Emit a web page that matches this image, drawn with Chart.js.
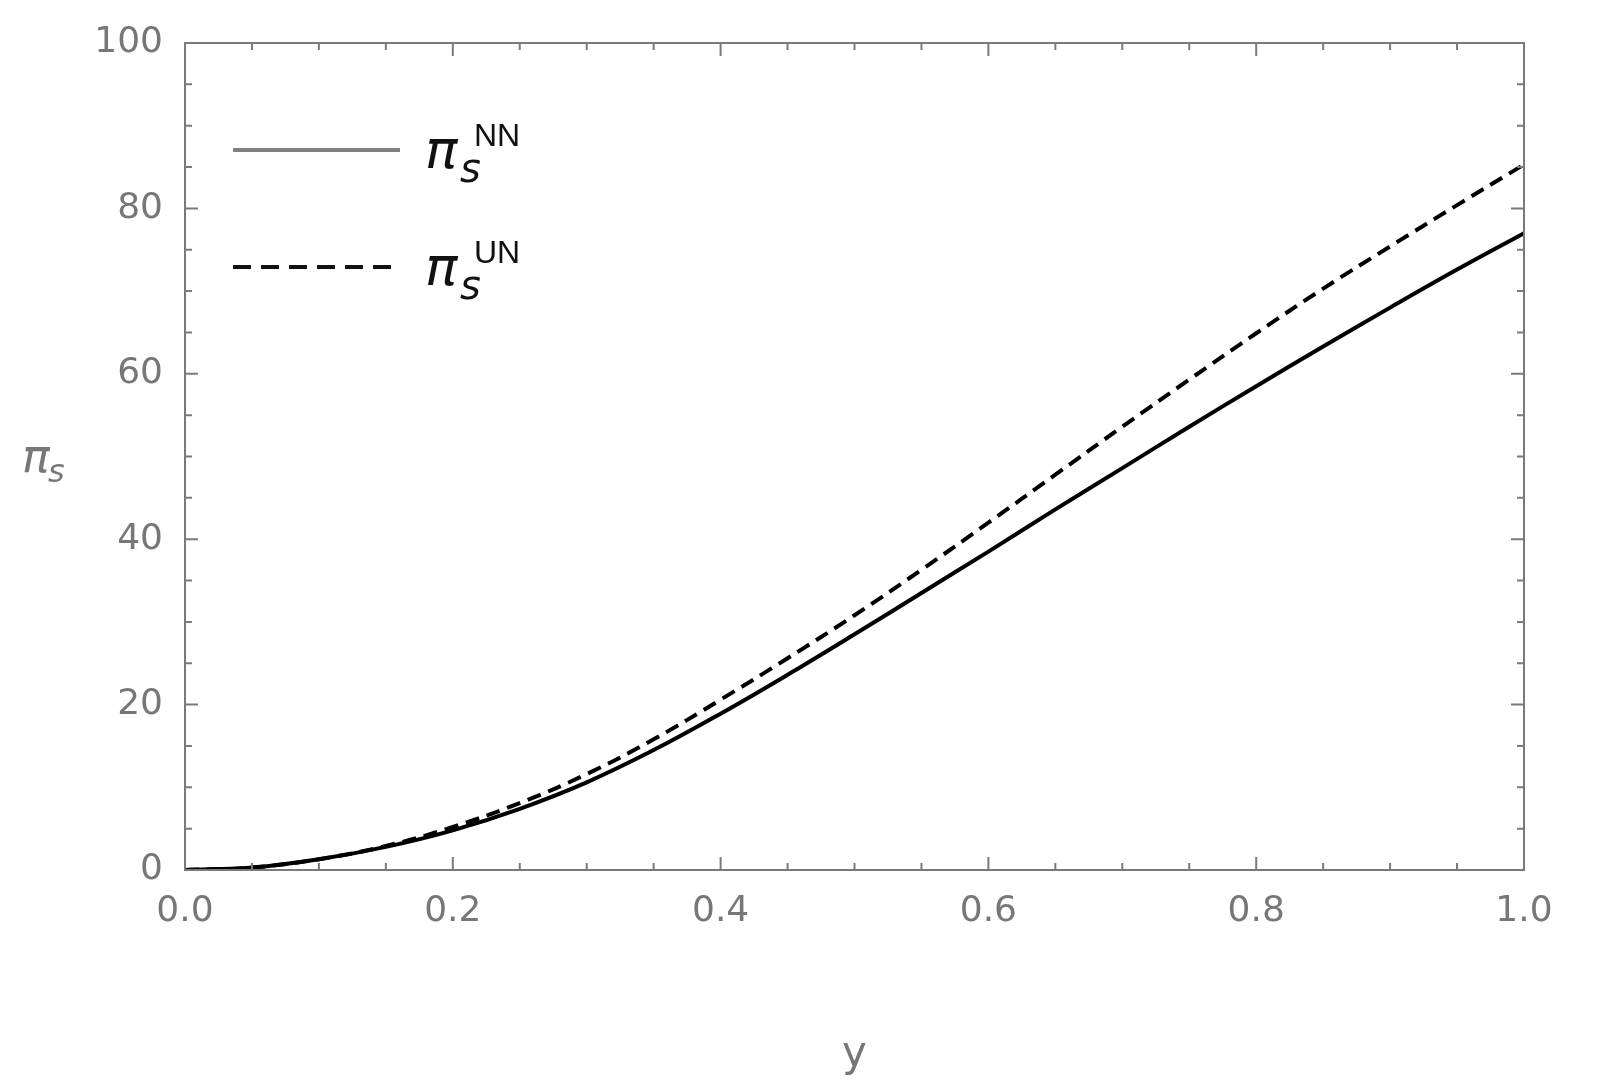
<!DOCTYPE html>
<html>
<head>
<meta charset="utf-8">
<script src="https://cdn.jsdelivr.net/npm/chart.js@4"></script>
<style>
  html, body { margin: 0; padding: 0; background: #fff; }
  #wrap { width: 1608px; height: 1084px; }
</style>
</head>
<body>
<div id="wrap"><canvas id="chart" width="1608" height="1084"></canvas></div>
<script>
// values
const yValues = [0, 0.05, 0.1, 0.15, 0.2, 0.25, 0.3, 0.35, 0.4, 0.45, 0.5,
                 0.55, 0.6, 0.65, 0.7, 0.75, 0.8, 0.85, 0.9, 0.95, 1.0];
const piNN = [0, 0.3, 1.3, 2.8, 4.8, 7.4, 10.6, 14.5, 18.9, 23.6, 28.5,
              33.5, 38.5, 43.6, 48.6, 53.6, 58.5, 63.3, 68.0, 72.6, 77.0];
const piUN = [0, 0.3, 1.3, 2.9, 5.2, 8.1, 11.6, 15.8, 20.6, 25.6, 30.8,
              36.3, 42.0, 47.8, 53.6, 59.3, 64.9, 70.3, 75.4, 80.4, 85.3];
const xTicks = [0, 0.2, 0.4, 0.6, 0.8, 1.0];
const yTicks = [0, 20, 40, 60, 80, 100];

const axisGray = '#7a7a7a';
const labelGray = '#777';

function pts(ys) {
    return yValues.map((x, i) => ({ x: x, y: ys[i] }));
}

// inside ticks on all four sides, frame, legend and y title
const framePlugin = {
    id: 'frame',
    afterDraw(chart) {
        const ctx = chart.ctx;
        const a = chart.chartArea;
        const xs = chart.scales.x, ys = chart.scales.y;
        ctx.save();
        ctx.strokeStyle = axisGray;
        ctx.lineWidth = 2;
        ctx.strokeRect(a.left, a.top, a.right - a.left, a.bottom - a.top);
        for (let i = 0; i <= 20; i++) {
            const v = i * 0.05;
            const len = i % 4 === 0 ? 13 : 7;
            const px = xs.getPixelForValue(v);
            ctx.beginPath();
            ctx.moveTo(px, a.bottom); ctx.lineTo(px, a.bottom - len);
            ctx.moveTo(px, a.top); ctx.lineTo(px, a.top + len);
            ctx.stroke();
        }
        for (let i = 0; i <= 20; i++) {
            const v = i * 5;
            const len = i % 4 === 0 ? 13 : 7;
            const py = ys.getPixelForValue(v);
            ctx.beginPath();
            ctx.moveTo(a.left, py); ctx.lineTo(a.left + len, py);
            ctx.moveTo(a.right, py); ctx.lineTo(a.right - len, py);
            ctx.stroke();
        }

        // y axis title: pi_s
        ctx.fillStyle = labelGray;
        ctx.font = 'italic 46px "DejaVu Sans"';
        ctx.textBaseline = 'alphabetic';
        ctx.fillText('\u03C0', 22, 472);
        ctx.font = 'italic 32px "DejaVu Sans"';
        ctx.fillText('s', 48, 482);

        // legend
        const items = [
            { y: 150, dash: [], color: '#808080', sup: 'NN' },
            { y: 267, dash: [18, 10], color: '#111', sup: 'UN' }
        ];
        items.forEach(it => {
            ctx.strokeStyle = it.color;
            ctx.lineWidth = 4;
            ctx.setLineDash(it.dash);
            ctx.beginPath();
            ctx.moveTo(233, it.y); ctx.lineTo(400, it.y);
            ctx.stroke();
            ctx.setLineDash([]);
            ctx.fillStyle = '#111';
            ctx.font = 'italic 54px "DejaVu Sans"';
            ctx.fillText('\u03C0', 425, it.y + 18);
            ctx.font = 'italic 40px "DejaVu Sans"';
            ctx.fillText('s', 460, it.y + 32);
            ctx.font = '32px "Liberation Sans"';
            ctx.fillText(it.sup, 474, it.y - 4);
        });
        ctx.restore();
    }
};

new Chart(document.getElementById('chart'), {
    type: 'line',
    data: {
        datasets: [
            {
                label: 'NN',
                data: pts(piNN),
                borderColor: '#000',
                borderWidth: 4,
                pointRadius: 0,
                tension: 0.4,
                fill: false
            },
            {
                label: 'UN',
                data: pts(piUN),
                borderColor: '#000',
                borderWidth: 4,
                borderDash: [14, 8],
                pointRadius: 0,
                tension: 0.4,
                fill: false
            }
        ]
    },
    options: {
        responsive: false,
        animation: false,
        layout: { padding: { left: 0, right: 84, top: 43, bottom: 0 } },
        plugins: { legend: { display: false }, tooltip: { enabled: false } },
        scales: {
            x: {
                type: 'linear',
                min: 0,
                max: 1,
                afterBuildTicks: s => { s.ticks = xTicks.map(v => ({ value: v })); },
                afterFit: s => { s.height = 214; },
                grid: { display: false },
                border: { display: false },
                ticks: {
                    color: labelGray,
                    font: { size: 36, family: 'DejaVu Sans' },
                    padding: 12,
                    maxRotation: 0,
                    callback: v => v.toFixed(1)
                },
                title: {
                    display: true,
                    text: 'y',
                    color: labelGray,
                    font: { size: 42, family: 'DejaVu Sans' },
                    padding: { top: 22 }
                }
            },
            y: {
                min: 0,
                max: 100,
                afterBuildTicks: s => { s.ticks = yTicks.map(v => ({ value: v })); },
                afterFit: s => { s.width = 185; },
                grid: { display: false },
                border: { display: false },
                ticks: {
                    color: labelGray,
                    font: { size: 36, family: 'DejaVu Sans' },
                    padding: 14
                }
            }
        }
    },
    plugins: [framePlugin]
});
</script>
</body>
</html>
